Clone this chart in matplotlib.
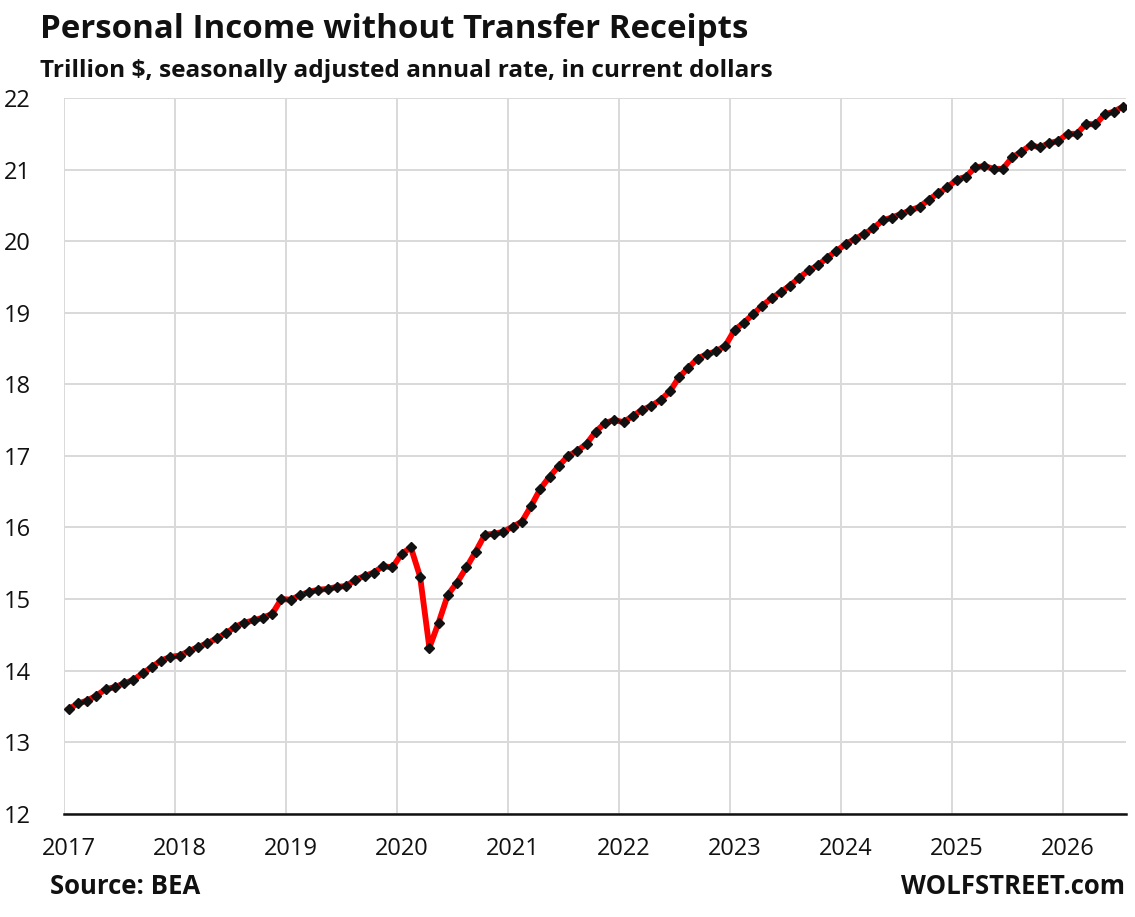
import numpy as np
import matplotlib.pyplot as plt
from matplotlib.ticker import FixedLocator, NullFormatter

plt.rcParams['font.family'] = ['Open Sans', 'DejaVu Sans']

# monthly values, trillion $, Jan 2017 .. Jul 2026
vals_2017 = [13.46, 13.54, 13.58, 13.65, 13.74, 13.77, 13.82, 13.87, 13.96, 14.05, 14.14, 14.19]
vals_2018 = [14.21, 14.27, 14.33, 14.38, 14.45, 14.52, 14.61, 14.67, 14.70, 14.74, 14.79, 15.00]
vals_2019 = [14.99, 15.05, 15.10, 15.13, 15.14, 15.17, 15.18, 15.27, 15.32, 15.37, 15.46, 15.44]
vals_2020 = [15.63, 15.72, 15.31, 14.32, 14.67, 15.06, 15.23, 15.44, 15.66, 15.90, 15.91, 15.94]
vals_2021 = [16.01, 16.08, 16.30, 16.54, 16.71, 16.86, 17.00, 17.07, 17.17, 17.34, 17.46, 17.50]
vals_2022 = [17.47, 17.56, 17.64, 17.70, 17.78, 17.90, 18.10, 18.23, 18.36, 18.42, 18.46, 18.54]
vals_2023 = [18.76, 18.86, 18.98, 19.10, 19.20, 19.29, 19.38, 19.49, 19.59, 19.66, 19.77, 19.86]
vals_2024 = [19.96, 20.03, 20.10, 20.18, 20.29, 20.33, 20.38, 20.43, 20.48, 20.58, 20.67, 20.75]
vals_2025 = [20.86, 20.90, 21.03, 21.05, 21.01, 21.01, 21.17, 21.25, 21.34, 21.31, 21.37, 21.40]
vals_2026 = [21.50, 21.50, 21.64, 21.63, 21.77, 21.81, 21.88]

years = list(range(2017, 2027))
yticks = list(range(12, 23))

values = np.array(vals_2017 + vals_2018 + vals_2019 + vals_2020 + vals_2021
                  + vals_2022 + vals_2023 + vals_2024 + vals_2025 + vals_2026)
months = np.arange(len(values))
x = 2017 + (months + 0.5) / 12   # mid-month

fig = plt.figure(figsize=(11.35, 9.17), dpi=100)
ax = fig.add_axes([64/1135, 1 - 813.7/917, (1126 - 64)/1135, (813.7 - 98)/917])

ax.plot(x, values, color='#ff0000', lw=4.2, solid_joinstyle='round', zorder=3)
ax.plot(x, values, ls='none', marker='D', ms=4.6, color='#111111', zorder=4)

ax.set_xlim(2017, 2017 + (1126 - 64)/111)
ax.set_ylim(12, 22)

# gridlines on year boundaries, labels on January points
ax.xaxis.set_minor_locator(FixedLocator(years))
ax.xaxis.set_minor_formatter(NullFormatter())
ax.set_xticks([yr + 0.5/12 for yr in years])
ax.set_xticklabels([str(yr) for yr in years])
ax.set_yticks(yticks)
ax.grid(True, which='minor', axis='x', color='#d9d9d9', lw=1.4)
ax.grid(True, which='major', axis='y', color='#d9d9d9', lw=1.4)
ax.set_axisbelow(True)
ax.tick_params(axis='both', which='both', length=0, labelsize=17, colors='#111111')
ax.tick_params(axis='x', pad=17)
ax.tick_params(axis='y', pad=24)

for s in ['top', 'right', 'left']:
    ax.spines[s].set_visible(False)
ax.spines['bottom'].set_color('#111111')
ax.spines['bottom'].set_linewidth(1.8)
ax.spines['bottom'].set_zorder(5)

fig.text(40/1135, 1 - 30/917, 'Personal Income without Transfer Receipts',
         fontsize=23.8, fontweight='bold', va='center', ha='left', color='#111111')
fig.text(40/1135, 1 - 71/917, 'Trillion $, seasonally adjusted annual rate, in current dollars',
         fontsize=17.6, fontweight='bold', va='center', ha='left', color='#111111')
fig.text(50/1135, 1 - 886/917, 'Source: BEA',
         fontsize=18.5, fontweight='bold', va='center', ha='left', color='#111111')
fig.text(1125/1135, 1 - 886/917, 'WOLFSTREET.com',
         fontsize=18.5, fontweight='bold', va='center', ha='right', color='#111111')

fig.savefig('out.png', dpi=100)
